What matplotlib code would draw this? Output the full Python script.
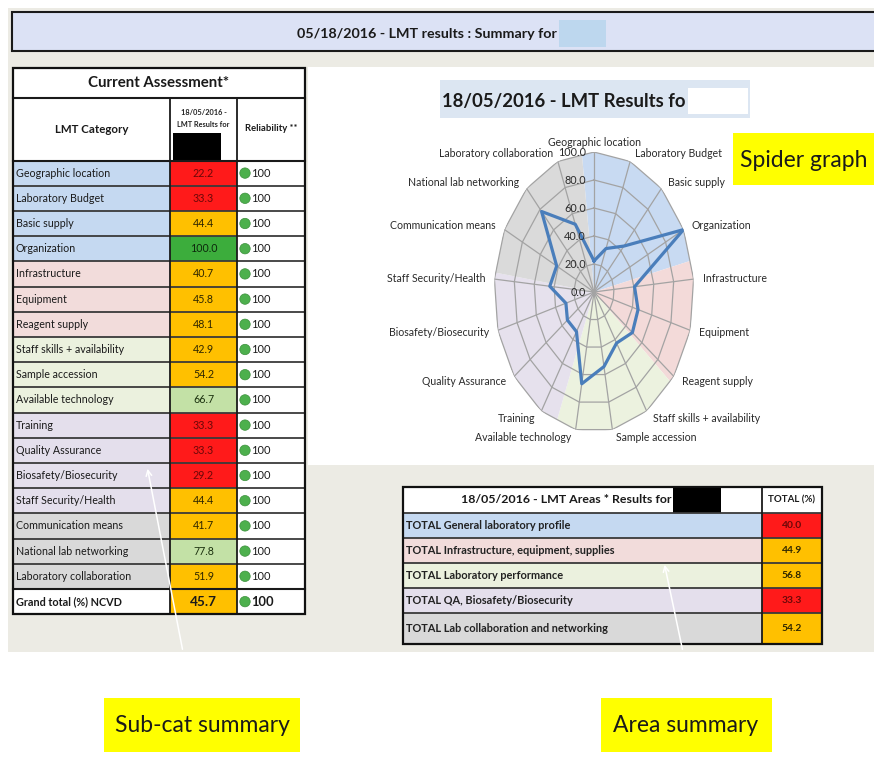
import numpy as np
import matplotlib
matplotlib.use('Agg')
import matplotlib.pyplot as plt
from matplotlib.patches import Rectangle, Circle
from matplotlib import transforms

plt.rcParams['font.family'] = ['Lato', 'DejaVu Sans']

# ---------------- data ----------------
categories = ["Geographic location", "Laboratory Budget", "Basic supply", "Organization",
              "Infrastructure", "Equipment", "Reagent supply", "Staff skills + availability",
              "Sample accession", "Available technology", "Training", "Quality Assurance",
              "Biosafety/Biosecurity", "Staff Security/Health", "Communication means",
              "National lab networking", "Laboratory collaboration"]
scores = [22.2, 33.3, 44.4, 100.0, 40.7, 45.8, 48.1, 42.9, 54.2, 66.7,
          33.3, 33.3, 29.2, 44.4, 41.7, 77.8, 51.9]
reliability = [100] * 17
category_area = [0, 0, 0, 0, 1, 1, 1, 2, 2, 2, 3, 3, 3, 3, 4, 4, 4]
grand_total_label = "Grand total (%) NCVD"
grand_total = 45.7
grand_reliability = 100

areas = ["TOTAL General laboratory profile", "TOTAL Infrastructure, equipment, supplies",
         "TOTAL Laboratory performance", "TOTAL QA, Biosafety/Biosecurity",
         "TOTAL Lab collaboration and networking"]
area_totals = [40.0, 44.9, 56.8, 33.3, 54.2]
radial_ticks = [0, 20, 40, 60, 80, 100]

# ---------------- styles ----------------
area_colors = ['#C5D9F1', '#F2DCDB', '#EBF1DE', '#E4DFEC', '#D9D9D9']
radar_area_colors = ['#C8DAF2', '#F3DAD9', '#ECF2DF', '#E6E1ED', '#DADADA']
sector_bounds_deg = [-7, 77, 130, 202, 278, 353]
BEIGE = '#ECEBE4'
TXT = '#1A1A1A'


def score_color(v):
    if v <= 40:
        return '#FF1A1A', '#6A0808'
    if v < 60:
        return '#FFC000', '#2E2600'
    if v < 100:
        return '#C3E1A6', '#1A300D'
    return '#3CAD3C', '#0D280C'


W, H = 874, 765
fig = plt.figure(figsize=(W / 100, H / 100), dpi=100)
fig.patch.set_facecolor('white')
ax = fig.add_axes([0, 0, 1, 1], zorder=0)
ax.set_xlim(0, W)
ax.set_ylim(H, 0)
ax.axis('off')


def rect(x0, y0, x1, y1, fc, ec='none', lw=0, z=1):
    ax.add_patch(Rectangle((x0, y0), x1 - x0, y1 - y0, facecolor=fc, edgecolor=ec,
                           linewidth=lw, zorder=z))


# backgrounds
rect(8, 8, W, 652, BEIGE, z=0)
rect(308, 67, W, 465, 'white', z=0.5)

# top title bar
rect(12, 12, W + 5, 51, '#DCE2F5', ec='#1A1A1A', lw=1.5, z=1)
ax.text(427, 34, "05/18/2016 - LMT results : Summary for", ha='center', va='center',
        fontsize=10.3, fontweight='bold', color=TXT, zorder=3)
rect(559, 20, 606, 47, '#BDD7EE', z=2)

# ---------------- left table ----------------
x0, x1, x2, x3 = 13, 170, 237, 305
hy0, hy1, hy2 = 68, 98, 160.5
row_h = 25.2
n = len(categories)
gy0 = hy2 + n * row_h
gy1 = gy0 + 25.5

rect(x0, hy0, x3, hy2, 'white', z=1)
ax.text((x0 + x3) / 2, (hy0 + hy1) / 2, "Current Assessment*", ha='center', va='center',
        fontsize=10.8, fontweight='bold', color=TXT, zorder=3)
ax.text((x0 + x1) / 2, (hy1 + hy2) / 2, "LMT Category", ha='center', va='center',
        fontsize=8.3, fontweight='bold', color=TXT, zorder=3)
ax.text((x1 + x2) / 2, 112, "18/05/2016 -", ha='center', va='center',
        fontsize=5.3, fontweight='bold', color='#222222', zorder=3)
ax.text((x1 + x2) / 2, 124, "LMT Results for", ha='center', va='center',
        fontsize=5.3, fontweight='bold', color='#222222', zorder=3)
rect(173, 133, 221, hy2, 'black', z=2)
ax.text((x2 + x3) / 2, 128, "Reliability **", ha='center', va='center',
        fontsize=6.8, fontweight='bold', color=TXT, zorder=3)

for i, (cat, v, rel, a) in enumerate(zip(categories, scores, reliability, category_area)):
    ty = hy2 + i * row_h
    cy = ty + row_h / 2
    rect(x0, ty, x1, ty + row_h, area_colors[a], z=1)
    fc, tc = score_color(v)
    rect(x1, ty, x2, ty + row_h, fc, z=1)
    rect(x2, ty, x3, ty + row_h, 'white', z=1)
    ax.text(x0 + 3, cy, cat, ha='left', va='center', fontsize=7.7, color=TXT, zorder=3)
    ax.text((x1 + x2) / 2, cy, f"{v:.1f}", ha='center', va='center', fontsize=7.7,
            color=tc, zorder=3)
    ax.add_patch(Circle((x2 + 8, cy), 5.2, facecolor='#4DB04D', edgecolor='#3A8F3A',
                        lw=0.5, zorder=3))
    ax.text(x2 + 14, cy, f"{rel}", ha='left', va='center', fontsize=7.9,
            color=TXT, zorder=3)
    ax.plot([x0, x3], [ty, ty], color='#3A3A3A', lw=1.3, zorder=2)

# grand total row
gc = (gy0 + gy1) / 2
rect(x0, gy0, x1, gy1, 'white', z=1)
fc, tc = score_color(grand_total)
rect(x1, gy0, x2, gy1, fc, z=1)
rect(x2, gy0, x3, gy1, 'white', z=1)
ax.text(x0 + 3, gc, grand_total_label, ha='left', va='center', fontsize=7.8,
        fontweight='bold', color=TXT, zorder=3)
ax.text((x1 + x2) / 2, gc, f"{grand_total:.1f}", ha='center', va='center', fontsize=9.8,
        fontweight='bold', color=TXT, zorder=3)
ax.add_patch(Circle((x2 + 8, gc), 5.2, facecolor='#4DB04D', edgecolor='#3A8F3A',
                    lw=0.5, zorder=3))
ax.text(x2 + 14, gc, f"{grand_reliability}", ha='left', va='center', fontsize=9.3,
        fontweight='bold', color=TXT, zorder=3)

for yy in [hy1, hy2, gy0]:
    ax.plot([x0, x3], [yy, yy], color='#1A1A1A', lw=1.5, zorder=2)
for xx in [x1, x2]:
    ax.plot([xx, xx], [hy1, gy1], color='#1A1A1A', lw=1.3, zorder=2)
rect(x0, hy0, x3, gy1, 'none', ec='#111111', lw=1.6, z=2.5)

# ---------------- area table ----------------
a0, a1, a2 = 403, 762, 822
ay = [487, 512.5, 538, 563, 588, 613, 644]
rect(a0, ay[0], a2, ay[1], 'white', z=1)
ax.text(566, (ay[0] + ay[1]) / 2, "18/05/2016 - LMT Areas * Results for", ha='center',
        va='center', fontsize=8.9, fontweight='bold', color=TXT, zorder=3)
rect(673, 486, 721, ay[1], 'black', z=2)
ax.text((a1 + a2) / 2, (ay[0] + ay[1]) / 2, "TOTAL (%)", ha='center', va='center',
        fontsize=7, fontweight='bold', color=TXT, zorder=3)
for i, (name, v) in enumerate(zip(areas, area_totals)):
    t, b = ay[i + 1], ay[i + 2]
    c = (t + b) / 2
    rect(a0, t, a1, b, area_colors[i], z=1)
    fc, tc = score_color(v)
    rect(a1, t, a2, b, fc, z=1)
    ax.text(a0 + 3, c, name, ha='left', va='center', fontsize=7.9, fontweight='bold',
            color='#222222', zorder=3)
    ax.text((a1 + a2) / 2, c, f"{v:.1f}", ha='center', va='center', fontsize=7.4,
            fontweight='bold', color=tc, zorder=3)
for yy in ay[1:-1]:
    ax.plot([a0, a2], [yy, yy], color='#3A3A3A', lw=1.3, zorder=2)
ax.plot([a1, a1], [ay[0], ay[-1]], color='#1A1A1A', lw=1.3, zorder=2)
rect(a0, ay[0], a2, ay[-1], 'none', ec='#111111', lw=1.6, z=2.5)

# ---------------- radar title ----------------
rect(440, 80, 750, 118, '#DCE6F2', z=1)
rect(688, 88, 748, 114, 'white', z=2.8)
ax.text(442, 101, "18/05/2016 - LMT Results fo", ha='left', va='center', fontsize=13.3,
        fontweight='bold', color=TXT, zorder=2.5)

# yellow callouts
rect(733, 133, W + 2, 185, '#FFFF00', z=2)
ax.text(804, 160, "Spider graph", ha='center', va='center', fontsize=16.5,
        color=TXT, zorder=3)
rect(104, 698, 300, 752, '#FFFF00', z=2)
ax.text(202, 726, "Sub-cat summary", ha='center', va='center', fontsize=16.5,
        color=TXT, zorder=3)
rect(601, 698, 772, 752, '#FFFF00', z=2)
ax.text(686, 726, "Area summary", ha='center', va='center', fontsize=16.5,
        color=TXT, zorder=3)

# white pointer arrows
ax.annotate('', xy=(147, 466), xytext=(183, 652),
            arrowprops=dict(arrowstyle='->', color='white', lw=1.1), zorder=4)
ax.annotate('', xy=(664, 562), xytext=(683, 652),
            arrowprops=dict(arrowstyle='->', color='white', lw=1.1), zorder=4)

# ---------------- radar chart ----------------
cx, cy, rx, ry = 594, 292, 100, 140
pax = fig.add_axes([(cx - rx) / W, (H - cy - ry) / H, 2 * rx / W, 2 * ry / H],
                   projection='polar', zorder=2)
pax.set_theta_zero_location('N')
pax.set_theta_direction(-1)
pax.set_ylim(0, 100)
pax.set_aspect('auto')
pax.patch.set_visible(False)
pax.spines['polar'].set_visible(False)
pax.grid(False)
pax.set_xticks([])
pax.set_yticks([])

N = len(categories)
step = 2 * np.pi / N
angles = np.arange(N) * step


def r_edge(th):
    th = np.mod(th, 2 * np.pi)
    k = np.floor(th / step)
    mid = (k + 0.5) * step
    return 100 * np.cos(step / 2) / np.cos(th - mid)


bounds = np.deg2rad(sector_bounds_deg)
for k in range(5):
    a, b = bounds[k], bounds[k + 1]
    ths = [a]
    ks = np.arange(np.ceil(a / step), np.floor(b / step) + 1)
    ths += [kk * step for kk in ks if a < kk * step < b]
    ths.append(b)
    ths = np.array(ths)
    rs = r_edge(ths)
    pax.fill(np.concatenate([[0], ths, [0]]), np.concatenate([[0], rs, [0]]),
             color=radar_area_colors[k], lw=0, zorder=1)

closed = np.append(angles, angles[0])
for lvl in radial_ticks[1:]:
    pax.plot(closed, [lvl] * (N + 1), color='#A3A3A3', lw=0.9, zorder=2)
for th in angles:
    pax.plot([th, th], [0, 100], color='#A3A3A3', lw=0.9, zorder=2)

pax.plot(closed, np.append(scores, scores[0]), color='#4A7EBB', lw=2.3, zorder=4)

off = transforms.offset_copy(pax.transData, fig=fig, x=-8, y=0, units='dots')
for lvl in radial_ticks:
    pax.text(0, lvl, f"{lvl:.1f}", transform=off, ha='right', va='center', fontsize=7.8,
             color='#2A2A2A', zorder=5)

for th, cat in zip(angles, categories):
    s = np.sin(th)
    if abs(s) < 0.05:
        pax.text(th, 103, cat, ha='center', va='bottom', fontsize=7.6, color='#2A2A2A')
        continue
    ha = 'left' if s > 0 else 'right'
    dx = 3 if s > 0 else -3
    t = transforms.offset_copy(pax.transData, fig=fig, x=dx, y=0, units='dots')
    pax.text(th, 106, cat, ha=ha, va='center', fontsize=7.6, color='#2A2A2A',
             transform=t)

fig.savefig('out.png', dpi=100, facecolor='white')
